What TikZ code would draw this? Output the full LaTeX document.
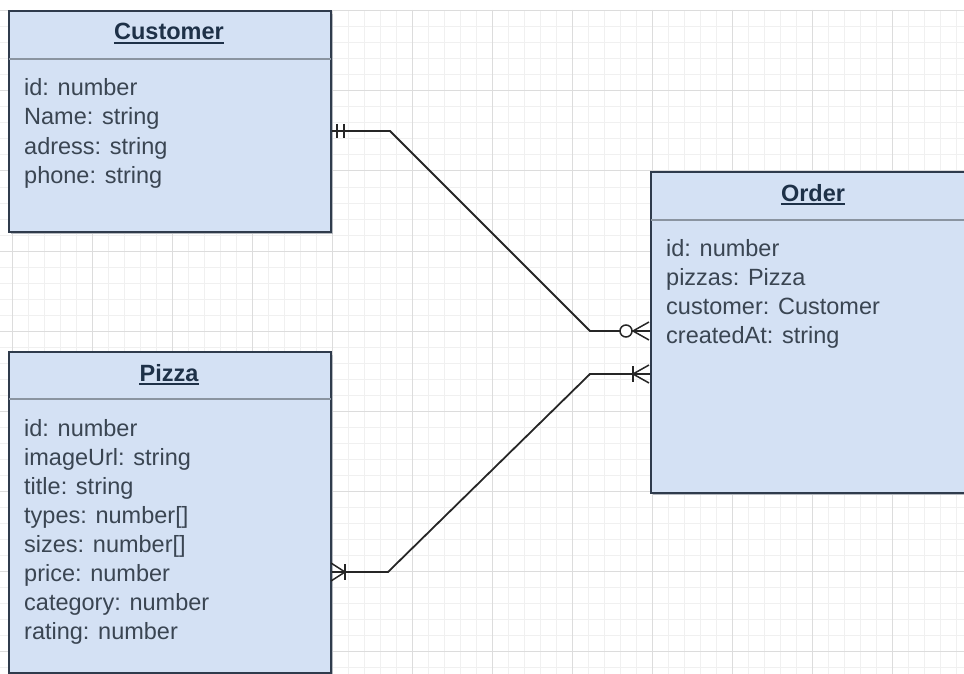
\documentclass[tikz,border=0pt]{standalone}
\usepackage{fontspec}
\setmainfont{Liberation Sans}
\usetikzlibrary{calc}
\definecolor{boxfill}{HTML}{D4E1F4}
\definecolor{boxline}{HTML}{2F3B4C}
\definecolor{sepline}{HTML}{8A94A0}
\definecolor{txt}{HTML}{3A4552}
\definecolor{titletxt}{HTML}{1E3148}
\definecolor{gridmajor}{HTML}{DCDCDC}
\definecolor{gridminor}{HTML}{F0F0F0}
\definecolor{shadowc}{HTML}{B4B8BE}
\begin{document}
\begin{tikzpicture}[x=1pt,y=-1pt,
  entity/.style={draw=boxline, fill=boxfill, line width=2pt, anchor=north west, inner sep=0pt, minimum width=322pt},
  shadowbox/.style={fill=shadowc},
  title/.style={anchor=base, inner sep=0pt, text=titletxt, font=\fontsize{23.5}{28}\selectfont\bfseries},
  attr/.style={anchor=base west, inner sep=0pt, text=txt, font=\fontsize{23.5}{28}\selectfont},
  sep/.style={draw=sepline, line width=1.2pt},
  uline/.style={draw=titletxt, line width=1.6pt},
  conn/.style={draw=black!85, line width=1.8pt},
  endmark/.style={draw=black!85, line width=1.5pt}
]
\useasboundingbox (0,0) rectangle (964,674);

% background grid
\foreach \x in {12,28,...,964} \draw[gridminor, line width=1pt] (\x,10) -- (\x,674);
\foreach \y in {27,43,...,674} \draw[gridminor, line width=1pt] (0,\y) -- (964,\y);
\foreach \x in {12,92,...,964} \draw[gridmajor, line width=1pt] (\x,10) -- (\x,674);
\foreach \y in {11,91,...,674} \draw[gridmajor, line width=1pt] (0,\y) -- (964,\y);

% shadows
\fill[shadowbox] (11,14) rectangle (333,234);
\fill[shadowbox] (653,175) rectangle (980,495);
\fill[shadowbox] (11,355) rectangle (333,676);

% entity boxes
\node[entity, minimum height=221pt] (customer) at (8,10) {};
\node[entity, minimum height=321pt, minimum width=330pt] (order) at (650,171) {};
\node[entity, minimum height=321pt] (pizza) at (8,351) {};

% header separators
\draw[sep] ($(customer.north west)+(1,49)$) -- ($(customer.north east)+(-1,49)$);
\draw[sep] ($(order.north west)+(1,49)$) -- ($(order.north east)+(-1,49)$);
\draw[sep] ($(pizza.north west)+(1,48)$) -- ($(pizza.north east)+(-1,48)$);

% titles
\node[title] (customer-title) at (169,40) {Customer};
\node[title] (order-title) at (813,201) {Order};
\node[title] (pizza-title) at (169,381) {Pizza};
\foreach \n in {customer-title,order-title,pizza-title}
  \draw[uline] ($(\n.base west)+(0,3)$) -- ($(\n.base east)+(0,3)$);

% attributes
\foreach \t [count=\i] in {id: number, Name: string, adress: string, phone: string}
  \node[attr] (customer-a\i) at (24,{96+29*(\i-1)}) {\t};
\foreach \t [count=\i] in {id: number, pizzas: Pizza, customer: Customer, createdAt: string}
  \node[attr] (order-a\i) at (666,{256+29*(\i-1)}) {\t};
\foreach \t [count=\i] in {id: number, imageUrl: string, title: string, types: number[], sizes: number[], price: number, category: number, rating: number}
  \node[attr] (pizza-a\i) at (24,{436+29*(\i-1)}) {\t};

% connector anchor rows
\coordinate (rowC) at (0,131);
\coordinate (rowO1) at (0,331);
\coordinate (rowO2) at (0,374);
\coordinate (rowP) at (0,572);
\coordinate (bendC) at (390,131);
\coordinate (bendO1) at (590,331);
\coordinate (bendO2) at (590,374);
\coordinate (bendP) at (388,572);

% Customer (one and only one) -- Order (zero or many)
\draw[conn] (customer.east |- rowC) -- (bendC) -- (bendO1) -- (order.west |- rowO1);
\draw[endmark] (337,124) -- (337,138);
\draw[endmark] (344,124) -- (344,138);
\draw[endmark, fill=white] (626,331) circle (6);
\draw[endmark] (633,331) -- (649,322);
\draw[endmark] (633,331) -- (649,340);

% Pizza (one or many) -- Order (one or many)
\draw[conn] (pizza.east |- rowP) -- (bendP) -- (bendO2) -- (order.west |- rowO2);
\draw[endmark] (633,366) -- (633,382);
\draw[endmark] (633,374) -- (649,365);
\draw[endmark] (633,374) -- (649,383);
\draw[endmark] (345,564) -- (345,580);
\draw[endmark] (345,572) -- (331,563);
\draw[endmark] (345,572) -- (331,581);
\end{tikzpicture}
\end{document}
